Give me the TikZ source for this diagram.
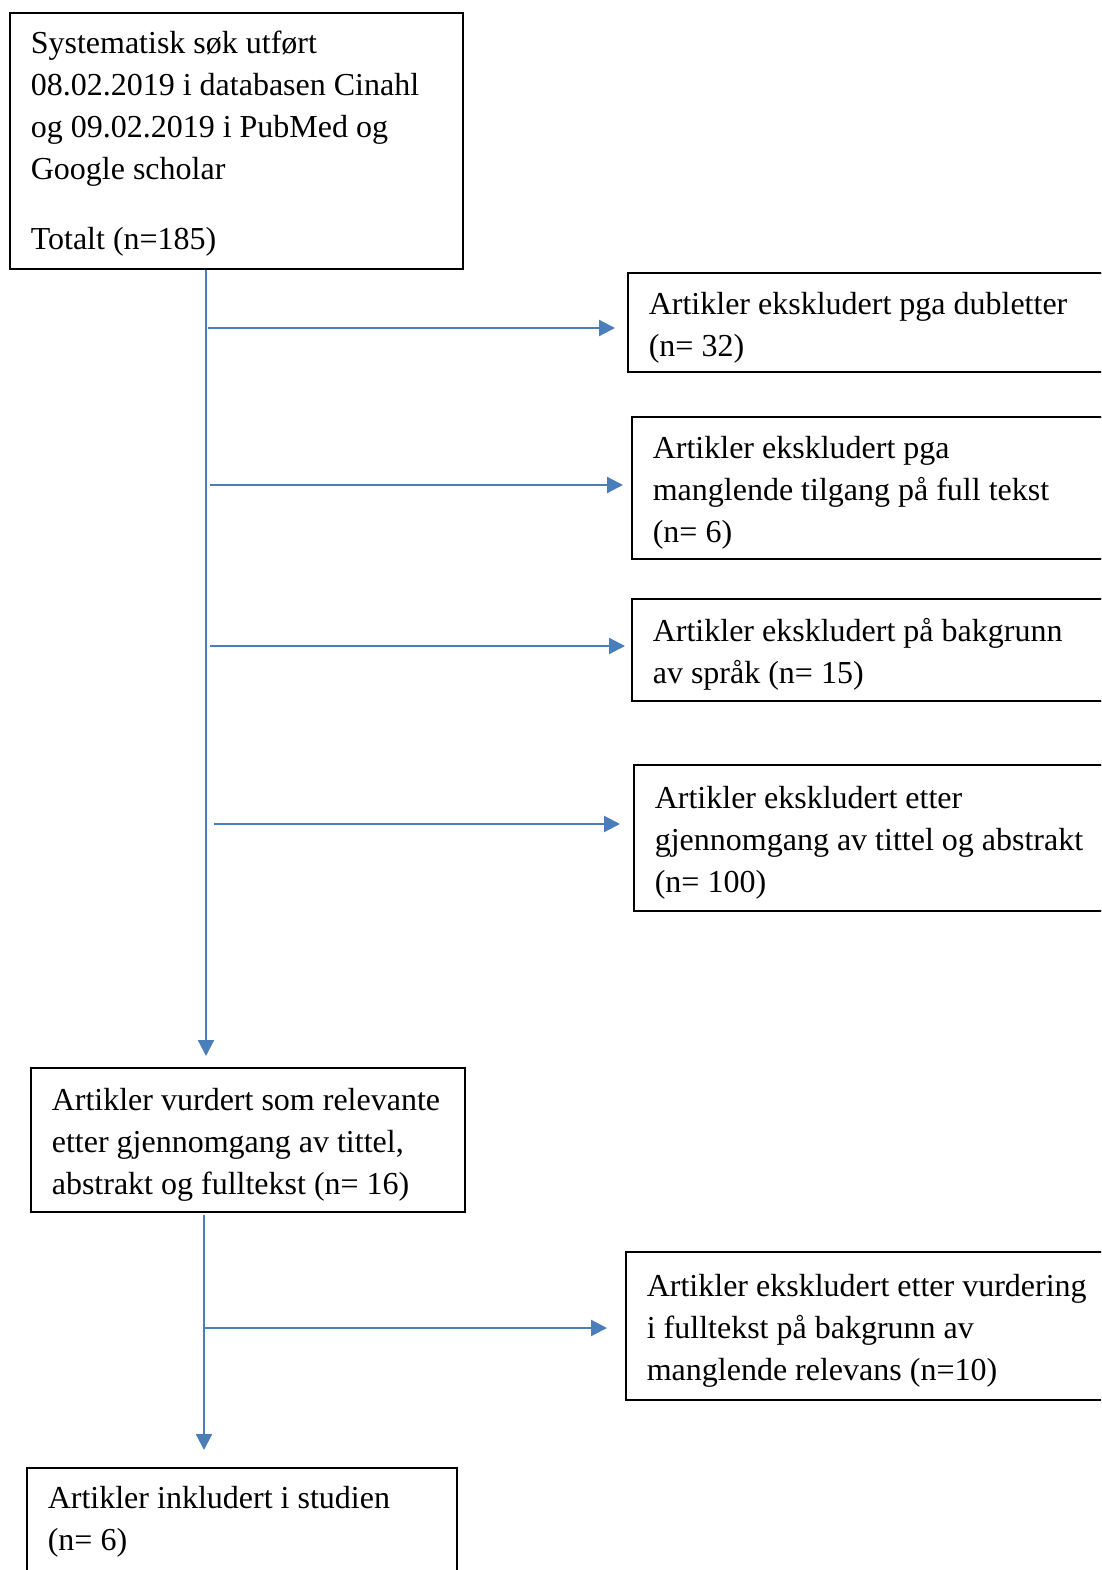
\documentclass[tikz,border=0pt]{standalone}
\usepackage{fontspec}
\setmainfont{Liberation Serif}
\usetikzlibrary{arrows.meta}
\definecolor{flowblue}{RGB}{74,126,187}
\newcommand\lnstrut{\rule[-8pt]{0pt}{42pt}}
\newcommand\lnstruta{\rule[-10pt]{0pt}{42pt}}
\begin{document}
\begin{tikzpicture}[x=1pt,y=-1pt,
  box/.style={draw=black, line width=1.6pt, anchor=north west, align=flush left,
    inner xsep=21pt, inner ysep=0pt, font=\fontsize{32}{42}\selectfont},
  arr/.style={draw=flowblue, line width=2.2pt, -{Triangle[length=16pt,width=16pt]}}]
\useasboundingbox (0,0) rectangle (1101,1570);
\clip (0,0) rectangle (1101,1570);
\fill[white] (0,0) rectangle (1101,1570);

\node[box, text width=411pt, minimum height=256pt] (b1) at (9,12)
  {\lnstruta Systematisk søk utført\\\lnstruta 08.02.2019 i databasen Cinahl\\\lnstruta og 09.02.2019 i PubMed og\\\lnstruta Google scholar\\[28pt]\lnstruta Totalt (n=185)};
\node[box, text width=450pt, minimum height=99pt] (b2) at (627,272)
  {\lnstrut Artikler ekskludert pga dubletter\\\lnstrut (n= 32)};
\node[box, text width=450pt, minimum height=142pt] (b3) at (631,416)
  {\lnstrut Artikler ekskludert pga\\\lnstrut manglende tilgang på full tekst\\\lnstrut (n= 6)};
\node[box, text width=450pt, minimum height=102pt] (b4) at (631,598)
  {\lnstrut Artikler ekskludert på bakgrunn\\\lnstrut av språk (n= 15)};
\node[box, text width=450pt, minimum height=146pt] (b5) at (633,764)
  {\lnstrut Artikler ekskludert etter\\\lnstrut gjennomgang av tittel og abstrakt\\\lnstrut (n= 100)};
\node[box, text width=392pt, minimum height=144pt] (b6) at (30,1067)
  {\lnstrut Artikler vurdert som relevante\\\lnstrut etter gjennomgang av tittel,\\\lnstrut abstrakt og fulltekst (n= 16)};
\node[box, text width=450pt, minimum height=148pt] (b7) at (625,1251)
  {\lnstrut Artikler ekskludert etter vurdering\\\lnstrut i fulltekst på bakgrunn av\\\lnstrut manglende relevans (n=10)};
\node[box, text width=388pt, minimum height=140pt] (b8) at (26,1467)
  {\lnstrut Artikler inkludert i studien\\\lnstrut (n= 6)\\\lnstrut};

% main spine
\coordinate (xa) at (206,0);
\coordinate (xb) at (204,0);
\draw[arr, shorten >=11pt] (xa |- b1.south) -- (xa |- b6.north);
\coordinate (j1) at (208,328);
\coordinate (j2) at (210,485);
\coordinate (j3) at (210,646);
\coordinate (j4) at (214,824);
\draw[arr, shorten >=12pt] (j1) -- (j1 -| b2.west);
\draw[arr, shorten >=8pt] (j2) -- (j2 -| b3.west);
\draw[arr, shorten >=6pt] (j3) -- (j3 -| b4.west);
\draw[arr, shorten >=13pt] (j4) -- (j4 -| b5.west);

% second spine
\coordinate (t2) at (204,1215);
\draw[arr, shorten >=17pt] (t2) -- (xb |- b8.north);
\coordinate (j5) at (204,1328);
\draw[arr, shorten >=18pt] (j5) -- (j5 -| b7.west);
\end{tikzpicture}
\end{document}
